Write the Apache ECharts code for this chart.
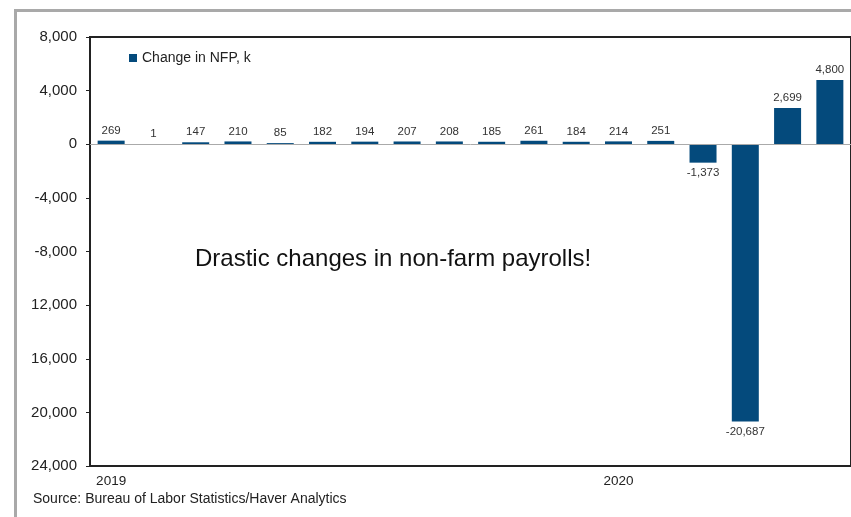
<!DOCTYPE html>
<html>
<head>
<meta charset="utf-8">
<script src="https://cdn.jsdelivr.net/npm/echarts@6/dist/echarts.min.js"></script>
<style>
html,body{margin:0;padding:0;background:#fff;}
#frame{position:absolute;left:14px;top:9px;width:900px;height:600px;border-left:3px solid #a9a9a9;border-top:3px solid #a9a9a9;box-sizing:border-box;}
#chart{position:absolute;left:0;top:0;width:851px;height:517px;}
</style>
</head>
<body>
<div id="frame"></div>
<div id="chart"></div>
<script>
const months = ["2019-01","2019-02","2019-03","2019-04","2019-05","2019-06","2019-07","2019-08","2019-09","2019-10","2019-11","2019-12","2020-01","2020-02","2020-03","2020-04","2020-05","2020-06"];
const nfpChange = [269, 1, 147, 210, 85, 182, 194, 207, 208, 185, 261, 184, 214, 251, -1373, -20687, 2699, 4800];
const yTickValues = [-24000, -20000, -16000, -12000, -8000, -4000, 0, 4000, 8000];
const yTickLabels = ["24,000", "20,000", "16,000", "12,000", "-8,000", "-4,000", "0", "4,000", "8,000"];
const xYearLabels = {"2019-01": "2019", "2020-01": "2020"};
const seriesName = "Change in NFP, k";
const titleText = "Drastic changes in non-farm payrolls!";
const sourceText = "Source: Bureau of Labor Statistics/Haver Analytics";

const FONT = 'Liberation Sans, Arial, sans-serif';
const chart = echarts.init(document.getElementById('chart'), null, {renderer: 'canvas'});
const fmt = v => v.toLocaleString('en-US');
chart.setOption({
  backgroundColor: 'transparent',
  animation: false,
  textStyle: {fontFamily: FONT},
  grid: {left: 90, right: -2, top: 37, bottom: 51, show: true, borderColor: '#222', borderWidth: 2, containLabel: false},
  legend: {
    show: true, left: 124, top: 46, itemWidth: 8, itemHeight: 8, icon: 'rect', itemGap: 10,
    textStyle: {fontSize: 14, color: '#222', fontFamily: FONT},
    data: [seriesName]
  },
  graphic: [
    {type: 'text', left: 195, top: 247, style: {text: titleText, fontSize: 24, fill: '#111', fontFamily: FONT}},
    {type: 'text', left: 33, top: 492, style: {text: sourceText, fontSize: 14, fill: '#222', fontFamily: FONT}}
  ],
  xAxis: {
    type: 'category', data: months,
    axisLine: {show: false, onZero: false},
    axisTick: {show: false},
    axisLabel: {interval: 0, margin: 8, fontSize: 13.5, color: '#222', formatter: v => xYearLabels[v] || ''},
    splitLine: {show: false}
  },
  yAxis: {
    type: 'value', min: -24000, max: 8000, interval: 4000,
    axisLine: {show: true, lineStyle: {color: '#222', width: 2}},
    axisTick: {show: true, length: 4, lineStyle: {color: '#222', width: 1}},
    axisLabel: {fontSize: 15, color: '#222', margin: 13, formatter: v => { const i = yTickValues.indexOf(v); return i >= 0 ? yTickLabels[i] : ''; }},
    splitLine: {show: false}
  },
  series: [{
    name: seriesName, type: 'bar', barWidth: 27,
    data: nfpChange.map(v => v < 0 ? {value: v, label: {position: 'bottom'}} : v),
    itemStyle: {color: '#044a7c'},
    label: {show: true, position: 'top', distance: 4, fontSize: 11.5, color: '#333', formatter: p => fmt(p.value)},
    markLine: {
      silent: true, symbol: 'none', label: {show: false},
      lineStyle: {color: '#aaa', width: 1, type: 'solid'},
      data: [{yAxis: 0}]
    }
  }]
});
</script>
</body>
</html>
